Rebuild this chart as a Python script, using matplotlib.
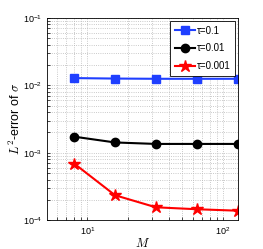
import numpy as np
import matplotlib
matplotlib.use('Agg')
import matplotlib.pyplot as plt

M = [8, 16, 32, 64, 128]
err_01 = [0.0128, 0.0126, 0.0125, 0.0125, 0.0125]
err_001 = [0.00173, 0.00142, 0.00135, 0.00135, 0.00135]
err_0001 = [0.00069, 0.000234, 0.000155, 0.000145, 0.000138]

plt.rcParams['font.family'] = ['Liberation Sans', 'DejaVu Sans']
plt.rcParams['mathtext.fontset'] = 'cm'

fig = plt.figure(figsize=(2.63, 2.49), dpi=100)
ax = fig.add_axes([0.179, 0.116, 0.726, 0.812])

ax.loglog(M, err_01, color='#1f3fff', marker='s', markersize=5.5, linewidth=1.5, label='τ=0.1')
ax.loglog(M, err_001, color='black', marker='o', markersize=6, linewidth=1.5, label='τ=0.01')
ax.loglog(M, err_0001, color='red', marker='*', markersize=9, linewidth=1.5, label='τ=0.001')

ax.set_xlim(5.05, 129)
ax.set_ylim(1e-4, 1e-1)
ax.grid(True, which='both', linestyle=':', color='#b8b8b8', linewidth=0.6)
ax.tick_params(labelsize=6.5, which='both', direction='in', length=2, width=0.5)
for s in ax.spines.values():
    s.set_linewidth(0.6)

ax.set_xlabel('$M$', fontsize=9, labelpad=0)
ax.set_ylabel('$L^2$-error of $\\sigma$', fontsize=9, labelpad=0)

leg = ax.legend(loc='upper right', fontsize=7, fancybox=False, edgecolor='black',
                framealpha=1, handlelength=2.0, borderpad=0.5, labelspacing=0.8,
                handletextpad=0.2, borderaxespad=0.3)
leg.get_frame().set_linewidth(0.6)

fig.savefig('out.png', dpi=100)
